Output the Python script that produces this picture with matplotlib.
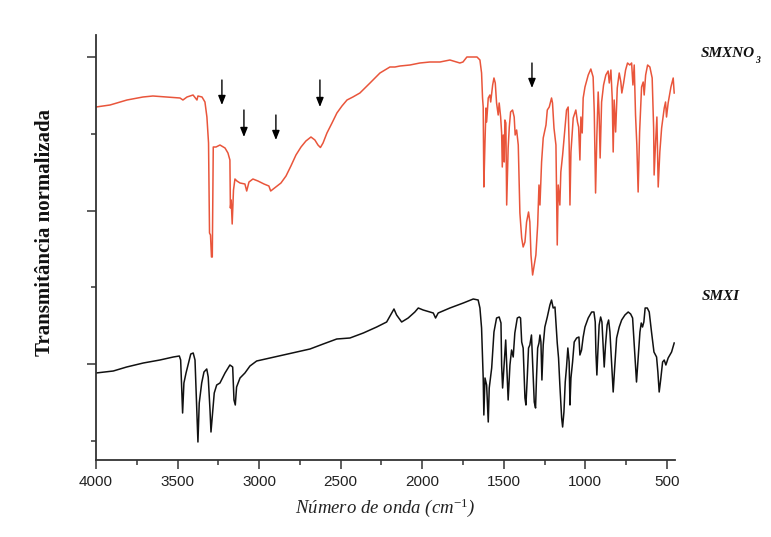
import matplotlib
matplotlib.use("Agg")
import matplotlib.pyplot as plt
from matplotlib.ticker import MultipleLocator, AutoMinorLocator

plt.rcParams["mathtext.fontset"] = "custom"
plt.rcParams["mathtext.rm"] = "Liberation Serif"
plt.rcParams["mathtext.it"] = "Liberation Serif:italic"
plt.rcParams["mathtext.bf"] = "Liberation Serif:bold"

# FTIR spectra (wavenumber in cm^-1, normalized transmittance in a.u., offset)
smxno3_wn = [4000, 3914, 3810, 3712, 3651, 3565, 3485, 3467, 3442, 3405,
             3381, 3375, 3350, 3332, 3320, 3310, 3304, 3298, 3292, 3287,
             3281, 3264, 3240, 3209, 3191, 3179, 3176, 3171, 3165, 3157,
             3148, 3136, 3117, 3087, 3076, 3062, 3038, 3007, 2970, 2940,
             2929, 2897, 2866, 2835, 2805, 2774, 2743, 2713, 2682, 2658,
             2639, 2624, 2608, 2584, 2553, 2523, 2492, 2461, 2425, 2382,
             2320, 2259, 2228, 2198, 2167, 2136, 2075, 2014, 1953, 1891,
             1830, 1769, 1750, 1726, 1664, 1646, 1636, 1630, 1626, 1622,
             1615, 1609, 1605, 1595, 1585, 1580, 1568, 1560, 1552, 1544,
             1534, 1528, 1519, 1513, 1509, 1503, 1497, 1493, 1487, 1482,
             1473, 1466, 1458, 1446, 1436, 1430, 1421, 1411, 1401, 1390,
             1381, 1370, 1360, 1348, 1340, 1333, 1323, 1313, 1303, 1292,
             1284, 1278, 1268, 1258, 1241, 1233, 1221, 1207, 1201, 1192,
             1180, 1172, 1166, 1156, 1150, 1139, 1125, 1115, 1105, 1099,
             1094, 1088, 1074, 1058, 1048, 1041, 1033, 1027, 1019, 1013,
             1002, 982, 966, 952, 945, 937, 929, 921, 915, 909,
             900, 888, 874, 860, 853, 843, 835, 829, 823, 814,
             804, 792, 782, 776, 765, 753, 741, 727, 716, 708,
             700, 692, 684, 676, 667, 655, 645, 639, 630, 618,
             604, 590, 581, 578, 569, 561, 553, 543, 532, 516,
             508, 502, 492, 475, 461, 455]
smxno3_t = [257, 259, 264, 267, 268, 267, 266, 264, 267, 269,
            264, 268, 267, 262, 247, 221, 131, 129, 107, 107,
            217, 217, 219, 216, 211, 204, 156, 164, 140, 174,
            185, 183, 181, 180, 173, 182, 185, 183, 180, 178,
            173, 177, 181, 188, 198, 209, 217, 223, 227, 224,
            219, 216.5, 221, 231, 241, 251, 258, 264, 267, 271,
            281, 291, 294, 297, 297, 298, 299, 301, 302, 302,
            304, 301, 302, 307, 307, 304, 291, 266, 257, 177,
            222, 256, 242, 266, 269, 262, 279, 286, 281, 261,
            249, 261, 247, 231, 197, 229, 202, 244, 241, 159,
            216, 237, 252, 254, 247, 229, 234, 219, 151, 126,
            117, 122, 142, 152, 142, 109, 89, 99, 109, 139,
            179, 159, 202, 226, 239, 254, 257, 266, 261, 236,
            219, 119, 179, 159, 192, 209, 236, 254, 257, 219,
            159, 212, 246, 254, 242, 237, 204, 247, 231, 266,
            277, 289, 295, 287, 252, 171, 229, 272, 249, 206,
            262, 279, 289, 293, 281, 294, 266, 212, 264, 232,
            276, 291, 282, 271, 281, 294, 301, 299, 301, 279,
            299, 249, 219, 172, 232, 277, 282, 269, 289, 299,
            297, 286, 236, 189, 222, 247, 177, 212, 236, 256,
            262, 247, 261, 277, 286, 271]

smxi_wn = [4000, 3894, 3812, 3710, 3608, 3526, 3489, 3481, 3469, 3461,
           3448, 3419, 3404, 3393, 3383, 3375, 3367, 3352, 3338, 3321,
           3312, 3301, 3295, 3285, 3275, 3260, 3240, 3209, 3179, 3162,
           3154, 3146, 3138, 3117, 3087, 3056, 3015, 2933, 2852, 2770,
           2688, 2607, 2524, 2443, 2361, 2279, 2218, 2187, 2173, 2157,
           2126, 2086, 2045, 2024, 1994, 1932, 1918, 1902, 1830, 1748,
           1687, 1657, 1646, 1636, 1626, 1622, 1615, 1605, 1595, 1589,
           1574, 1560, 1544, 1528, 1517, 1513, 1507, 1497, 1488, 1482,
           1473, 1462, 1452, 1442, 1432, 1417, 1405, 1397, 1390, 1381,
           1370, 1364, 1356, 1348, 1340, 1330, 1323, 1313, 1305, 1299,
           1292, 1284, 1278, 1272, 1266, 1258, 1248, 1233, 1217, 1207,
           1197, 1186, 1180, 1172, 1164, 1156, 1145, 1139, 1131, 1123,
           1115, 1107, 1099, 1094, 1088, 1078, 1068, 1053, 1039, 1033,
           1023, 1013, 1002, 982, 961, 947, 939, 935, 929, 923,
           915, 906, 898, 890, 884, 876, 866, 857, 849, 839,
           829, 820, 808, 792, 777, 757, 737, 722, 710, 700,
           690, 686, 676, 665, 657, 649, 641, 633, 620, 608,
           594, 579, 563, 555, 547, 538, 526, 516, 506, 492,
           471, 455]
smxi_t = [-9, -7, -3, 1, 4, 7, 8, 4, -49, -19,
          -9, 10, 11, 4, -43, -78, -39, -19, -8, -5,
          -13, -46, -68, -48, -29, -21, -19, -9, -1, -3,
          -36, -41, -23, -14, -9, -2, 3, 6, 9, 12,
          15, 20, 25, 26, 31, 37, 42, 51, 55, 49,
          42, 46, 52, 56, 54, 51, 46, 51, 56, 61,
          65, 64, 56, 36, -14, -51, -14, -21, -58, -24,
          -4, 32, 46, 47, 41, -1, -24, 2, 24, -1,
          -36, -1, 14, 7, 31, 46, 47, 46, 22, 16,
          -34, -41, -14, 16, 19, 29, 2, -38, -44, -13,
          16, 21, 29, 22, -16, 19, 37, 47, 59, 64,
          56, 57, 42, 21, 6, -21, -54, -63, -48, -18,
          -3, 16, 2, -41, -14, 2, 22, 26, 27, 9,
          14, 27, 37, 46, 52, 52, 42, 12, -11, 12,
          39, 47, 42, 16, -3, 19, 39, 44, 32, 2,
          -28, -4, 26, 37, 44, 49, 52, 50, 46, 19,
          -8, -18, 6, 32, 41, 37, 42, 56, 56, 52,
          32, 12, 7, -8, -28, -16, 2, 4, -1, 6,
          12, 21]

# Bands highlighted with arrows on the SMXNO3 spectrum
arrow_wn = [3228, 3093, 2897, 2627, 1327]
arrow_tail = [284, 254, 249, 284, 301]
arrow_tip = [259, 227, 224, 257, 276]

fig = plt.figure(figsize=(7.71, 5.37), dpi=100)
ax = fig.add_axes([96 / 771, 1 - 460 / 537, 579 / 771, 425 / 537])

ax.plot(smxno3_wn, smxno3_t, color="#E9553B", lw=1.1)
ax.plot(smxi_wn, smxi_t, color="#111111", lw=1.1)

for wn, t0, t1 in zip(arrow_wn, arrow_tail, arrow_tip):
    ax.annotate("", xy=(wn, t1), xytext=(wn, t0),
                arrowprops=dict(arrowstyle="-|>,head_length=0.55,head_width=0.22",
                                color="black", lw=1.0, shrinkA=0, shrinkB=0))

ax.set_xlim(4000, 450)
ax.set_ylim(-96, 329)
ax.xaxis.set_major_locator(MultipleLocator(500))
ax.xaxis.set_minor_locator(MultipleLocator(250))
ax.yaxis.set_major_locator(MultipleLocator(153.5))
ax.yaxis.set_minor_locator(AutoMinorLocator(2))
ax.set_yticklabels([])

for side in ("top", "right"):
    ax.spines[side].set_visible(False)
for side in ("left", "bottom"):
    ax.spines[side].set_color("#333333")
    ax.spines[side].set_linewidth(1.3)

ax.tick_params(which="major", direction="out", length=6.5, width=1.1, color="#333333")
ax.tick_params(which="minor", direction="out", length=3.5, width=1.1, color="#333333")
ax.tick_params(axis="x", which="major", pad=4, labelsize=11, labelcolor="#222222")
for lbl in ax.get_xticklabels():
    lbl.set_fontfamily("Liberation Sans")

ax.set_xlabel(r"Número de onda (cm$^{-1}$)", fontfamily="Liberation Serif",
              fontstyle="italic", fontsize=13.5, color="#222222", labelpad=6)
fig.text(45 / 771, 1 - 232 / 537, "Transmitância normalizada", rotation=90,
         ha="center", va="center", fontfamily="Liberation Serif",
         fontweight="bold", fontsize=15, color="#111111")

fig.text(701 / 771, 1 - 53 / 537, "SMXNO", ha="left", va="center",
         fontfamily="Liberation Serif", fontweight="bold", fontstyle="italic",
         fontsize=11, color="#111111")
fig.text(755 / 771, 1 - 65 / 537, "3", ha="left", va="bottom",
         fontfamily="Liberation Serif", fontweight="bold", fontstyle="italic",
         fontsize=7, color="#111111")
fig.text(702 / 771, 1 - 297 / 537, "SMXI", ha="left", va="center",
         fontfamily="Liberation Serif", fontweight="bold", fontstyle="italic",
         fontsize=11, color="#111111")

fig.savefig("out.png", dpi=100, facecolor="white")
